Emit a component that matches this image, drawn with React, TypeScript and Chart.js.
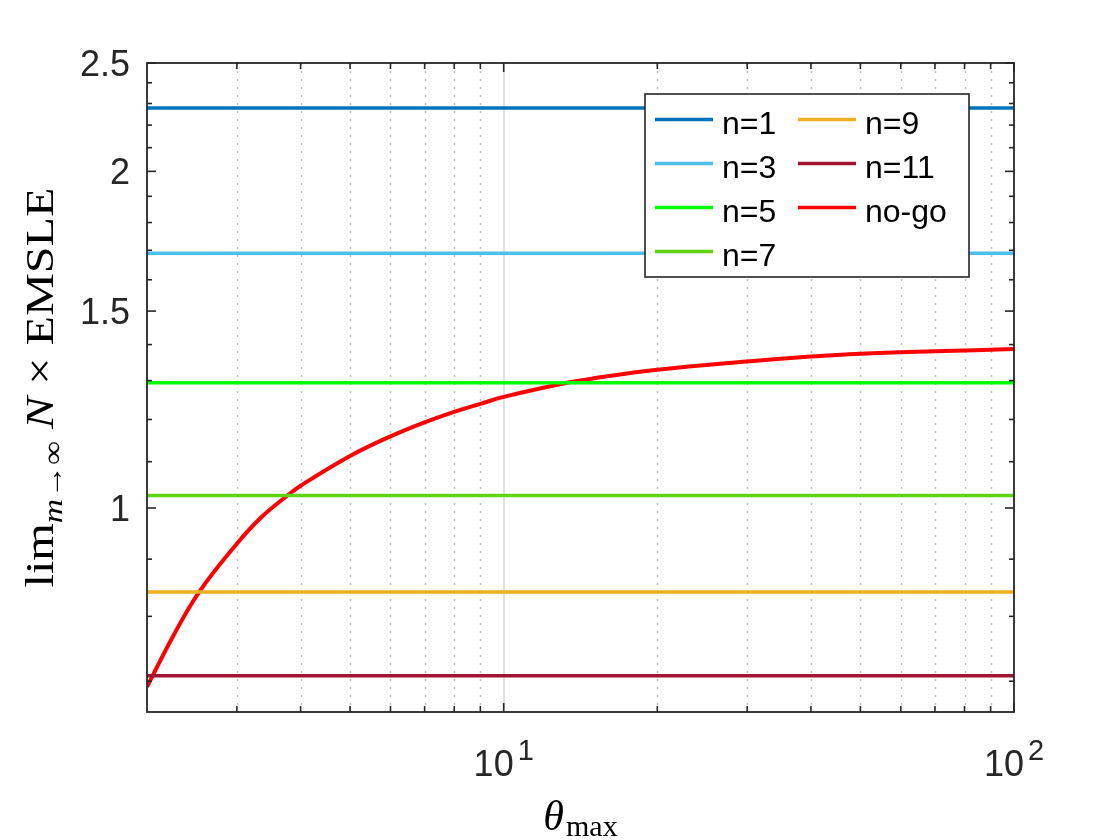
import { useEffect, useRef } from "react";
import { Chart, registerables, type Plugin } from "chart.js";

Chart.register(...registerables);

// no-go curve
const thetaMax = [2, 2.25, 2.53, 3, 3.35, 3.78, 4, 5, 6, 7, 8, 9, 10, 13.3, 15, 20, 30, 40, 50, 70, 100];
const noGo = [0.692, 0.768, 0.841, 0.929, 0.981, 1.027, 1.047, 1.113, 1.159, 1.193, 1.219, 1.239, 1.257, 1.294, 1.306, 1.329, 1.352, 1.366, 1.374, 1.381, 1.387];

// constant levels per n
const seriesLabels = ["n=1", "n=3", "n=5", "n=7", "n=9", "n=11"];
const seriesLevels = [2.279, 1.69, 1.294, 1.026, 0.841, 0.708];
const seriesColors = ["#0072BD", "#4DBEEE", "#00FF00", "#5FD314", "#EDB120", "#A2142F"];

const xRange = [2, 100];
const yRange = [0.657, 2.5];
const xMajorTicks = [10, 100];
const xMinorTicks = [3, 4, 5, 6, 7, 8, 9, 20, 30, 40, 50, 60, 70, 80, 90];
const yMajorTicks = [1, 1.5, 2, 2.5];
const yMinorTicks = [0.7, 0.8, 0.9, 1.1, 1.2, 1.3, 1.4, 1.6, 1.7, 1.8, 1.9, 2.1, 2.2, 2.3, 2.4];

const SANS = '"Liberation Sans", Arial, Helvetica, sans-serif';
const SERIF = '"Liberation Serif", "Times New Roman", serif';
const AXIS = "#262626";

// MATLAB-like axes: box, inward ticks, grid, labels and a two-column legend
const matlabAxes: Plugin<"scatter"> = {
  id: "matlabAxes",
  beforeDatasetsDraw(chart) {
    const { ctx, chartArea: a } = chart;
    const x = chart.scales.x;
    ctx.save();
    ctx.lineWidth = 1.5;
    ctx.strokeStyle = "#bdbdbd";
    ctx.setLineDash([2, 6]);
    for (const v of xMinorTicks) {
      const px = Math.round(x.getPixelForValue(v)) + 0.5;
      ctx.beginPath();
      ctx.moveTo(px, a.top);
      ctx.lineTo(px, a.bottom);
      ctx.stroke();
    }
    ctx.setLineDash([]);
    ctx.strokeStyle = "#e0e0e0";
    ctx.lineWidth = 2;
    for (const v of xMajorTicks) {
      if (v >= xRange[1]) continue;
      const px = Math.round(x.getPixelForValue(v));
      ctx.beginPath();
      ctx.moveTo(px, a.top);
      ctx.lineTo(px, a.bottom);
      ctx.stroke();
    }
    ctx.restore();
  },
  afterDatasetsDraw(chart) {
    const { ctx, chartArea: a } = chart;
    const x = chart.scales.x;
    const y = chart.scales.y;
    ctx.save();
    ctx.strokeStyle = AXIS;
    ctx.fillStyle = AXIS;
    ctx.lineWidth = 1.8;
    ctx.strokeRect(a.left, a.top, a.right - a.left, a.bottom - a.top);

    const tick = (x0: number, y0: number, x1: number, y1: number) => {
      ctx.beginPath();
      ctx.moveTo(x0, y0);
      ctx.lineTo(x1, y1);
      ctx.stroke();
    };
    ctx.lineWidth = 1.6;
    for (const v of yMajorTicks) {
      const py = y.getPixelForValue(v);
      tick(a.left, py, a.left + 9, py);
      tick(a.right, py, a.right - 9, py);
    }
    for (const v of yMinorTicks) {
      const py = y.getPixelForValue(v);
      tick(a.left, py, a.left + 5, py);
      tick(a.right, py, a.right - 5, py);
    }
    for (const v of xMajorTicks) {
      const px = x.getPixelForValue(v);
      tick(px, a.bottom, px, a.bottom - 9);
      tick(px, a.top, px, a.top + 9);
    }
    for (const v of xMinorTicks) {
      const px = x.getPixelForValue(v);
      tick(px, a.bottom, px, a.bottom - 6);
      tick(px, a.top, px, a.top + 6);
    }

    // y tick labels
    ctx.font = `36px ${SANS}`;
    ctx.textAlign = "right";
    ctx.textBaseline = "middle";
    for (const v of yMajorTicks) {
      ctx.fillText(String(v), a.left - 17, y.getPixelForValue(v) + 3);
    }

    // x tick labels 10^k
    ctx.textBaseline = "alphabetic";
    ctx.textAlign = "left";
    for (const v of xMajorTicks) {
      const exp = String(Math.round(Math.log10(v)));
      ctx.font = `36px ${SANS}`;
      const wb = ctx.measureText("10").width;
      ctx.font = `29px ${SANS}`;
      const we = ctx.measureText(exp).width;
      const start = x.getPixelForValue(v) - (wb + 4 + we) / 2;
      ctx.font = `36px ${SANS}`;
      ctx.fillText("10", start, a.bottom + 64);
      ctx.font = `29px ${SANS}`;
      ctx.fillText(exp, start + wb + 4, a.bottom + 48);
    }

    // x axis title: theta_max
    ctx.fillStyle = "#000";
    ctx.font = `italic 42px ${SERIF}`;
    const wt = ctx.measureText("θ").width;
    ctx.font = `30px ${SERIF}`;
    const wm = ctx.measureText("max").width;
    const cx = (a.left + a.right) / 2;
    const x0 = cx - (wt + 2 + wm) / 2;
    ctx.font = `italic 42px ${SERIF}`;
    ctx.fillText("θ", x0, a.bottom + 118);
    ctx.font = `30px ${SERIF}`;
    ctx.fillText("max", x0 + wt + 2, a.bottom + 124);

    // y axis title: lim_{m->inf} N x EMSLE
    const pieces = [
      { t: "lim", f: `40px ${SERIF}`, dy: 0 },
      { t: "m", f: `italic 28px ${SERIF}`, dy: 9 },
      { t: "→∞", f: `28px ${SERIF}`, dy: 9 },
      { t: " N", f: `italic 40px ${SERIF}`, dy: 0 },
      { t: " × ", f: `40px ${SERIF}`, dy: 0 },
      { t: "EMSLE", f: `40px ${SERIF}`, dy: 0 },
    ];
    let total = 0;
    const widths = pieces.map((p) => {
      ctx.font = p.f;
      const w = ctx.measureText(p.t).width;
      total += w;
      return w;
    });
    const targetLen = 400;
    ctx.save();
    ctx.translate(53, (a.top + a.bottom) / 2);
    ctx.rotate(-Math.PI / 2);
    ctx.scale(targetLen / total, 1);
    let pos = -total / 2;
    pieces.forEach((p, i) => {
      ctx.font = p.f;
      ctx.fillText(p.t, pos, p.dy);
      pos += widths[i];
    });
    ctx.restore();

    // legend
    const box = { left: 645, top: 94, right: 969, bottom: 277 };
    ctx.fillStyle = "#fff";
    ctx.fillRect(box.left, box.top, box.right - box.left, box.bottom - box.top);
    ctx.strokeStyle = AXIS;
    ctx.lineWidth = 1.6;
    ctx.strokeRect(box.left, box.top, box.right - box.left, box.bottom - box.top);
    const colX = [655, 798];
    ctx.font = `32px ${SANS}`;
    ctx.textAlign = "left";
    chart.data.datasets.forEach((ds, i) => {
      const col = Math.floor(i / 4);
      const row = i % 4;
      const ly = 119.5 + row * 44;
      const lx = colX[col];
      ctx.strokeStyle = ds.borderColor as string;
      ctx.lineWidth = 3.5;
      ctx.beginPath();
      ctx.moveTo(lx, ly);
      ctx.lineTo(lx + 58, ly);
      ctx.stroke();
      ctx.fillStyle = "#000";
      ctx.fillText(ds.label ?? "", lx + 67, ly + 14);
    });
    ctx.restore();
  },
};

export default function App() {
  const canvasRef = useRef<HTMLCanvasElement>(null);

  useEffect(() => {
    document.body.style.margin = "0";
    const canvas = canvasRef.current;
    if (!canvas) return;

    const datasets: any[] = seriesLabels.map((label, i) => ({
      label,
      data: [
        { x: xRange[0], y: seriesLevels[i] },
        { x: xRange[1], y: seriesLevels[i] },
      ],
      borderColor: seriesColors[i],
      backgroundColor: seriesColors[i],
      borderWidth: 3.5,
      pointRadius: 0,
      showLine: true,
    }));
    datasets.push({
      label: "no-go",
      data: thetaMax.map((t, i) => ({ x: t, y: noGo[i] })),
      borderColor: "#FF0000",
      backgroundColor: "#FF0000",
      borderWidth: 4,
      pointRadius: 0,
      showLine: true,
      tension: 0.4,
    });

    const chart = new Chart(canvas, {
      type: "scatter",
      data: { datasets },
      options: {
        animation: false,
        responsive: false,
        devicePixelRatio: 1,
        layout: { padding: { left: 147, top: 63, right: 106, bottom: 128 } },
        scales: {
          x: { type: "logarithmic", min: xRange[0], max: xRange[1], display: false },
          y: { type: "logarithmic", min: yRange[0], max: yRange[1], display: false },
        },
        plugins: { legend: { display: false }, tooltip: { enabled: false } },
      },
      plugins: [matlabAxes],
    });

    return () => chart.destroy();
  }, []);

  return <canvas ref={canvasRef} width={1120} height={840} style={{ display: "block" }} />;
}
